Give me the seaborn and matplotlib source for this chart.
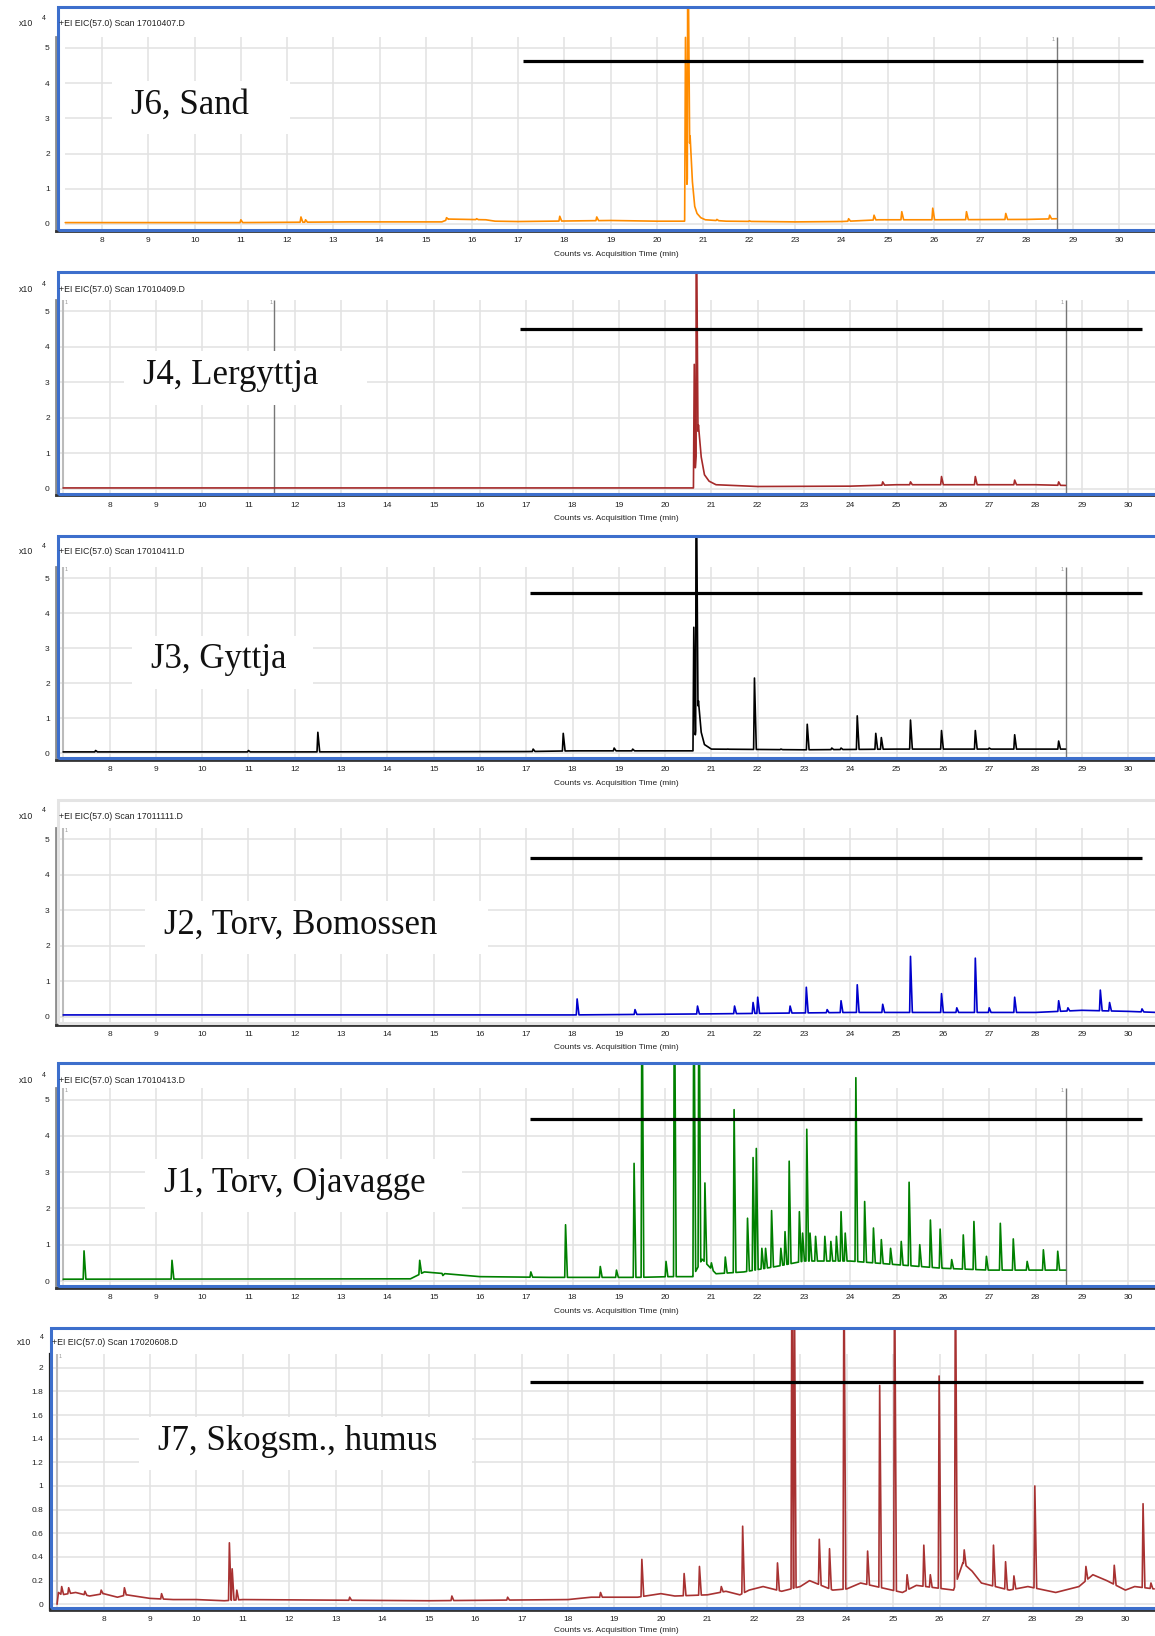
import numpy as np
import pandas as pd
import seaborn as sns
import matplotlib.pyplot as plt
from matplotlib.patches import Rectangle

sns.set_style("white")
plt.rcParams['font.family'] = ['Liberation Sans', 'DejaVu Sans']

W, H = 1155, 1636

# ---- data (time in min, counts x10^4) ----
labels = ["J6, Sand", "J4, Lergyttja", "J3, Gyttja", "J2, Torv, Bomossen",
          "J1, Torv, Ojavagge", "J7, Skogsm., humus"]
scans = ["17010407", "17010409", "17010411", "17011111", "17010413", "17020608"]
colors = ["#ff8c00", "#a52a2a", "#000000", "#0000cc", "#008000", "#a83232"]

# J6, Sand
j6_base_t = [7.2, 11.0, 13.4, 15.35, 15.5, 16.3, 16.5, 17.0, 19.0, 20.0, 20.6,
             20.72, 20.77, 20.82, 20.87, 20.95, 21.05, 21.5, 23.0, 24.0, 24.8, 26.0, 28.0, 28.65]
j6_base_y = [0.04, 0.04, 0.06, 0.06, 0.14, 0.12, 0.08, 0.07, 0.1, 0.08, 0.08,
             2.5, 1.2, 0.5, 0.3, 0.18, 0.12, 0.08, 0.06, 0.07, 0.12, 0.12, 0.13, 0.15]
j6_peak_t = [11.0, 12.3, 12.4, 15.45, 16.1, 17.9, 18.7, 20.62, 20.67, 21.3, 22.0,
             24.15, 24.7, 25.3, 25.97, 26.7, 27.55, 28.5]
j6_peak_h = [0.12, 0.2, 0.12, 0.18, 0.15, 0.22, 0.2, 5.3, 9.0, 0.13, 0.09,
             0.15, 0.25, 0.35, 0.45, 0.35, 0.3, 0.25]

# J4, Lergyttja
j4_base_t = [7.0, 20.55, 20.62, 20.72, 20.78, 20.85, 20.95, 21.1, 22.0, 24.0, 25.0, 28.0, 28.65]
j4_base_y = [0.03, 0.03, 0.03, 1.8, 0.9, 0.4, 0.22, 0.12, 0.07, 0.08, 0.12, 0.12, 0.1]
j4_peak_t = [20.63, 20.67, 24.7, 25.3, 25.97, 26.7, 27.55, 28.5]
j4_peak_h = [3.5, 9.0, 0.2, 0.2, 0.35, 0.35, 0.25, 0.2]

# J3, Gyttja
j3_base_t = [7.0, 12.0, 17.0, 18.0, 20.5, 20.62, 20.72, 20.78, 20.85, 21.0, 23.0, 25.0, 28.65]
j3_base_y = [0.04, 0.04, 0.05, 0.07, 0.07, 0.07, 1.5, 0.6, 0.25, 0.12, 0.1, 0.12, 0.12]
j3_peak_t = [7.7, 11.0, 12.5, 17.15, 17.8, 18.9, 19.3, 20.62, 20.67, 21.35, 21.93, 22.5,
             23.07, 23.6, 23.8, 24.15, 24.55, 24.67, 25.3, 25.97, 26.7, 27.0, 27.55, 28.5]
j3_peak_h = [0.08, 0.08, 0.6, 0.12, 0.57, 0.15, 0.12, 3.6, 9.0, 0.12, 2.15, 0.12,
             0.83, 0.15, 0.15, 1.07, 0.57, 0.45, 0.95, 0.65, 0.65, 0.15, 0.53, 0.35]

# J2, Torv, Bomossen
j2_base_t = [7.0, 18.0, 21.0, 24.0, 28.0, 29.0, 30.0, 30.62]
j2_base_y = [0.05, 0.05, 0.08, 0.12, 0.12, 0.18, 0.15, 0.12]
j2_peak_t = [18.1, 19.35, 20.7, 21.5, 21.9, 22.0, 22.7, 23.05, 23.5, 23.8, 24.15, 24.7,
             25.3, 25.97, 26.3, 26.7, 27.0, 27.55, 28.5, 28.7, 29.4, 29.6, 30.3]
j2_peak_h = [0.5, 0.2, 0.3, 0.3, 0.4, 0.55, 0.3, 0.83, 0.2, 0.45, 0.9, 0.35,
             1.7, 0.65, 0.25, 1.65, 0.25, 0.55, 0.45, 0.25, 0.75, 0.4, 0.22]

# J1, Torv, Ojavagge
j1_base_t = [7.0, 14.5, 14.8, 16.0, 17.5, 19.0, 19.45, 20.1, 20.6, 20.8, 21.1, 21.7,
             22.4, 23.0, 24.0, 25.0, 26.0, 27.0, 28.65]
j1_base_y = [0.05, 0.06, 0.25, 0.12, 0.1, 0.1, 0.1, 0.12, 0.12, 0.6, 0.2, 0.25,
             0.4, 0.55, 0.55, 0.45, 0.35, 0.3, 0.3]
j1_peak_t = [7.45, 9.35, 14.7, 15.2, 17.1, 17.85, 18.6, 18.95, 19.33, 19.5, 20.02, 20.2,
             20.62, 20.73, 20.86, 21.0, 21.3, 21.49, 21.78, 21.9, 21.97, 22.09, 22.17,
             22.3, 22.5, 22.59, 22.68, 22.9, 22.97, 23.06, 23.13, 23.25, 23.45, 23.58,
             23.7, 23.8, 23.89, 24.12, 24.31, 24.5, 24.67, 24.87, 25.1, 25.27, 25.5,
             25.73, 25.94, 26.19, 26.44, 26.67, 26.94, 27.24, 27.52, 27.82, 28.17, 28.48]
j1_peak_h = [0.83, 0.57, 0.57, 0.15, 0.25, 1.55, 0.4, 0.3, 3.24, 9.0, 0.54, 9.0,
             9.0, 9.0, 2.7, 0.5, 0.66, 4.72, 1.73, 3.4, 3.65, 0.9, 0.9,
             1.94, 0.9, 1.36, 3.3, 1.91, 1.32, 4.18, 1.32, 1.23, 1.23, 1.09,
             1.23, 1.91, 1.32, 5.6, 2.19, 1.46, 1.14, 0.9, 1.09, 2.72, 1.0,
             1.68, 1.43, 0.59, 1.27, 1.64, 0.68, 1.59, 1.16, 0.54, 0.86, 0.82]

# J7, Skogsm., humus
j7_base_t = [7.0, 7.03, 7.1, 7.4, 7.7, 8.0, 8.3, 8.5, 9.0, 9.5, 10.0, 10.6, 11.0, 15.0,
             18.0, 18.5, 19.0, 19.5, 20.0, 20.3, 21.0, 21.4, 21.7, 21.9, 22.2, 22.6,
             23.0, 23.2, 23.7, 24.0, 24.3, 25.2, 25.5, 26.3, 26.5, 26.7, 26.9, 27.5,
             27.9, 28.5, 29.0, 29.3, 29.6, 30.0, 30.2, 30.62]
j7_base_y = [0.0, 0.1, 0.08, 0.1, 0.07, 0.09, 0.06, 0.08, 0.05, 0.04, 0.04, 0.03, 0.04, 0.03,
             0.04, 0.06, 0.06, 0.06, 0.09, 0.07, 0.08, 0.11, 0.08, 0.12, 0.15, 0.11,
             0.15, 0.2, 0.12, 0.13, 0.18, 0.1, 0.16, 0.12, 0.35, 0.28, 0.18, 0.12,
             0.15, 0.1, 0.15, 0.25, 0.2, 0.12, 0.15, 0.13]
j7_peak_t = [7.1, 7.25, 7.6, 7.95, 8.45, 9.25, 10.71, 10.77, 10.87, 13.3, 15.5, 16.7,
             18.7, 19.59, 20.5, 20.83, 21.3, 21.76, 22.51, 22.82, 22.87, 23.41, 23.63,
             23.94, 24.45, 24.71, 25.03, 25.3, 25.66, 25.8, 25.99, 26.34, 26.53, 27.16,
             27.42, 27.6, 28.05, 29.15, 29.76, 30.38, 30.55]
j7_peak_h = [0.15, 0.14, 0.11, 0.12, 0.14, 0.09, 0.52, 0.3, 0.12, 0.06, 0.07, 0.06,
             0.1, 0.38, 0.26, 0.32, 0.15, 0.66, 0.35, 3.0, 3.0, 0.55, 0.47,
             3.0, 0.45, 1.85, 3.0, 0.25, 0.5, 0.25, 1.93, 3.0, 0.46, 0.5,
             0.36, 0.24, 1.0, 0.32, 0.33, 0.85, 0.18]

traces = [(j6_base_t, j6_base_y, j6_peak_t, j6_peak_h),
          (j4_base_t, j4_base_y, j4_peak_t, j4_peak_h),
          (j3_base_t, j3_base_y, j3_peak_t, j3_peak_h),
          (j2_base_t, j2_base_y, j2_peak_t, j2_peak_h),
          (j1_base_t, j1_base_y, j1_peak_t, j1_peak_h),
          (j7_base_t, j7_base_y, j7_peak_t, j7_peak_h)]

hline_level = [4.64, 4.50, 4.59, 4.48, 4.45, 1.883]
hline_start = [17.1, 16.86, 17.09, 17.09, 17.08, 17.18]
hline_end = [30.51, 30.31, 30.31, 30.31, 30.31, 30.37]
end_marks = [[28.65], [11.55, 28.65], [28.65], [], [28.65], []]

# ---- layout in pixels ----
# frame x0, frame top, frame bottom, ax left, ax top, ax bottom, y0 px, px/unit, x8 px, px/min, grid top px
panels = [
    (57.5, 7.5, 229.5, 56, 9, 231, 224, 35.2, 93.5, 46.6, 37),
    (57.5, 271.7, 493.7, 56, 273, 495.5, 489, 35.6, 109.5, 46.3, 300),
    (57.5, 536, 758.3, 56, 537.5, 760, 753.3, 35.0, 109.5, 46.3, 567),
    (57.5, 800, 1022.7, 56, 801.5, 1024.5, 1016.7, 35.5, 109.5, 46.3, 828),
    (57.5, 1063.3, 1285.7, 56, 1065, 1287.5, 1281, 36.3, 109.5, 46.3, 1088),
    (50.7, 1328, 1608.3, 49.5, 1329.5, 1610, 1604.3, 118.3, 103.5, 46.45, 1354.3),
]
frame_colors = ["#3d6fcc", "#3d6fcc", "#3d6fcc", "#e4e4e4", "#3d6fcc", "#3d6fcc"]
label_x = [131, 143, 151, 164, 164, 158]
label_cy = [102, 372.5, 657, 922, 1180, 1438]
box_right = [290, 367, 313, 488, 462, 472]
title_y = [23.3, 289, 551.7, 816, 1080.7, 1342.3]
xlabel_y = [254.6, 518.6, 783.6, 1047.6, 1311.6, 1630.8]


def build_trace(base_t, base_y, peak_t, peak_h, wl=0.018, wr=0.04):
    bt = np.asarray(base_t, float)
    by = np.asarray(base_y, float)
    spans = [(t - wl, t + wr) for t in peak_t]
    pts = [(t, y) for t, y in zip(bt, by) if not any(a < t < b for a, b in spans)]
    for t, h in zip(peak_t, peak_h):
        for tt in (t - wl, t + wr):
            pts.append((tt, float(np.interp(tt, bt, by))))
        pts.append((t, h))
    pts.sort()
    return pd.DataFrame(pts, columns=["time", "counts"])


fig = plt.figure(figsize=(W / 100, H / 100), dpi=100)
fig.patch.set_facecolor("white")

for i, p in enumerate(panels):
    fx0, ftop, fbot, axl, axt, axb, y0, unit, x8, ppm, gtop = p
    ax = fig.add_axes([axl / W, 1 - axb / H, (W - axl) / W, (axb - axt) / H])
    xmin = 8 - (x8 - axl) / ppm
    xmax = 8 + (W - x8) / ppm
    ylo = -(axb - y0) / unit
    yhi = (y0 - axt) / unit
    ygrid = (y0 - gtop) / unit
    ax.set_xlim(xmin, xmax)
    ax.set_ylim(ylo, yhi)

    if i == 5:
        yt = [round(v * 0.2, 1) for v in range(11)]
    else:
        yt = list(range(6))
    # grid
    ax.hlines(yt, xmin, xmax, color="#e2e2e2", lw=1.1, zorder=0)
    ax.vlines(range(7, 31), ylo, ygrid, color="#e2e2e2", lw=1.1, zorder=0)

    df = build_trace(*traces[i])
    sns.lineplot(data=df, x="time", y="counts", ax=ax, color=colors[i],
                 lw=1.2, estimator=None, sort=False, zorder=3)

    ax.hlines(hline_level[i], hline_start[i], hline_end[i], color="black", lw=2.3, zorder=4)
    for t in end_marks[i]:
        ax.vlines(t, ylo, ygrid, color="#777777", lw=1.0, zorder=2)
        ax.text(t - 0.03, ygrid, "1", fontsize=4, color="#999999", ha="right", va="top")
    if i > 0:
        ax.vlines(7.0, 0, ygrid, color="#bbbbbb", lw=1.5, zorder=2)
        ax.text(7.04, ygrid, "1", fontsize=4, color="#999999", ha="left", va="top")

    ax.set_xticks(list(range(7, 31)))
    ax.set_xticklabels([""] + [str(v) for v in range(8, 31)])
    ax.set_yticks(yt)
    ax.set_yticklabels([f"{v:g}" for v in yt])
    ax.tick_params(axis="x", direction="out", length=3, width=1, color="#333333",
                   labelsize=6, pad=1.5, labelcolor="#222222")
    ax.tick_params(axis="y", direction="out", length=3.5, width=1, color="#333333",
                   labelsize=6, pad=1, labelcolor="#222222")
    ax.set_xlabel("")
    ax.set_ylabel("")
    for s in ("top", "right"):
        ax.spines[s].set_visible(False)
    ax.spines["bottom"].set_color("#333333")
    ax.spines["bottom"].set_linewidth(2)
    ax.spines["left"].set_color("#222222" if i == 5 else "#8c8c8c")
    ax.spines["left"].set_linewidth(1.6 if i == 5 else 2)
    ax.spines["left"].set_bounds(ylo, ygrid)
    ax.patch.set_alpha(0)

    # frame around the panel
    fig.add_artist(Rectangle((fx0 / W, 1 - fbot / H), (W + 20 - fx0) / W, (fbot - ftop) / H,
                             transform=fig.transFigure, fill=False,
                             edgecolor=frame_colors[i], lw=2.2, zorder=5))

    # label box and label
    bx0 = label_x[i] - 19
    fig.add_artist(Rectangle((bx0 / W, 1 - (label_cy[i] + 32) / H),
                             (box_right[i] - bx0) / W, 53 / H,
                             transform=fig.transFigure, facecolor="white",
                             edgecolor="none", zorder=6))
    fig.text(label_x[i] / W, 1 - (label_cy[i] + 11.5) / H, labels[i],
             family=["Liberation Serif", "DejaVu Serif"], fontsize=25,
             ha="left", va="baseline", color="#111111", zorder=7)

    # titles and exponent
    tx = 52 if i == 5 else 59
    fig.text(tx / W, 1 - title_y[i] / H, f"+EI EIC(57.0) Scan {scans[i]}.D",
             fontsize=6.3, va="center", ha="left", color="#222222", zorder=7)
    ex = 16.7 if i == 5 else 19
    fig.text(ex / W, 1 - title_y[i] / H, "x10", fontsize=6.3, va="center",
             ha="left", color="#222222")
    fig.text((ex + 23) / W, 1 - (title_y[i] - 5) / H, "4", fontsize=5,
             va="center", ha="left", color="#222222")
    fig.text(616 / W, 1 - xlabel_y[i] / H, "Counts vs. Acquisition Time (min)",
             fontsize=6, va="center", ha="center", color="#222222")

fig.savefig("out.png", dpi=100)
